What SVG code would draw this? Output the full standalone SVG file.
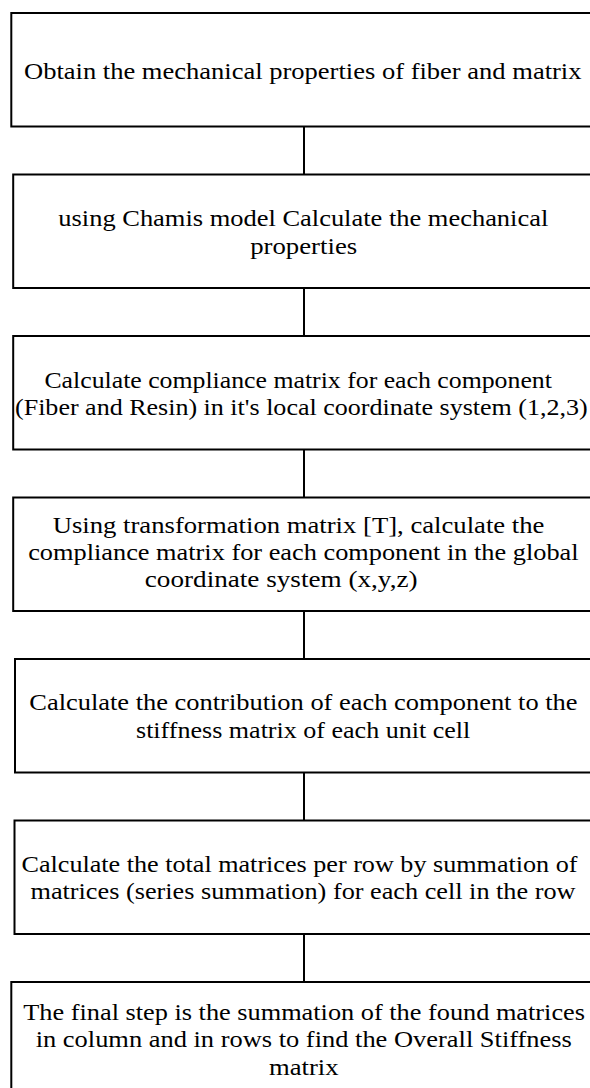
<svg xmlns="http://www.w3.org/2000/svg" width="590" height="1088" viewBox="0 0 590 1088">
<style>
.box{fill:#fff;stroke:#000;stroke-width:2}
.conn{stroke:#000;stroke-width:2;fill:none}
text{font-family:"Liberation Serif","Times New Roman",serif;font-size:23px;fill:#000}
</style>
<rect width="590" height="1088" fill="#fff"/>
<g id="connectors">
<line class="conn" x1="304" y1="126.5" x2="304" y2="174.5"/>
<line class="conn" x1="304" y1="288" x2="304" y2="336"/>
<line class="conn" x1="304" y1="449.5" x2="304" y2="497.5"/>
<line class="conn" x1="304" y1="611" x2="304" y2="659"/>
<line class="conn" x1="304" y1="772.5" x2="304" y2="820.5"/>
<line class="conn" x1="304" y1="934" x2="304" y2="982"/>
</g>
<g id="n1">
<rect class="box" x="11.3" y="13" width="600" height="113.5"/>
<text x="24" y="78.5" textLength="557.5" lengthAdjust="spacingAndGlyphs">Obtain the mechanical properties of fiber and matrix</text>
</g>
<g id="n2">
<rect class="box" x="13.2" y="174.5" width="600" height="113.5"/>
<text x="58.3" y="226" textLength="490" lengthAdjust="spacingAndGlyphs">using Chamis model Calculate the mechanical</text>
<text x="250.2" y="253.5" textLength="107" lengthAdjust="spacingAndGlyphs">properties</text>
</g>
<g id="n3">
<rect class="box" x="13.2" y="336" width="600" height="113.5"/>
<text x="44.4" y="387.5" textLength="507.5" lengthAdjust="spacingAndGlyphs">Calculate compliance matrix for each component</text>
<text x="15" y="415" textLength="572.7" lengthAdjust="spacingAndGlyphs">(Fiber and Resin) in it's local coordinate system (1,2,3)</text>
</g>
<g id="n4">
<rect class="box" x="13.2" y="497.5" width="600" height="113.5"/>
<text x="52.7" y="533" textLength="491.7" lengthAdjust="spacingAndGlyphs">Using transformation matrix [T], calculate the</text>
<text x="28.2" y="560" textLength="550.4" lengthAdjust="spacingAndGlyphs">compliance matrix for each component in the global</text>
<text x="144.8" y="587" textLength="272.8" lengthAdjust="spacingAndGlyphs">coordinate system (x,y,z)</text>
</g>
<g id="n5">
<rect class="box" x="15" y="659" width="600" height="113.5"/>
<text x="29.3" y="709.5" textLength="548.2" lengthAdjust="spacingAndGlyphs">Calculate the contribution of each component to the</text>
<text x="136" y="737.5" textLength="334.3" lengthAdjust="spacingAndGlyphs">stiffness matrix of each unit cell</text>
</g>
<g id="n6">
<rect class="box" x="14.5" y="820.5" width="600" height="113.5"/>
<text x="21.5" y="871.7" textLength="556" lengthAdjust="spacingAndGlyphs">Calculate the total matrices per row by summation of</text>
<text x="30.5" y="899.3" textLength="545" lengthAdjust="spacingAndGlyphs">matrices (series summation) for each cell in the row</text>
</g>
<g id="n7">
<rect class="box" x="11.3" y="982" width="600" height="150"/>
<text x="23.3" y="1019.5" textLength="561.7" lengthAdjust="spacingAndGlyphs">The final step is the summation of the found matrices</text>
<text x="35.7" y="1047" textLength="536.2" lengthAdjust="spacingAndGlyphs">in column and in rows to find the Overall Stiffness</text>
<text x="269" y="1074.5" textLength="69.6" lengthAdjust="spacingAndGlyphs">matrix</text>
</g>
</svg>
